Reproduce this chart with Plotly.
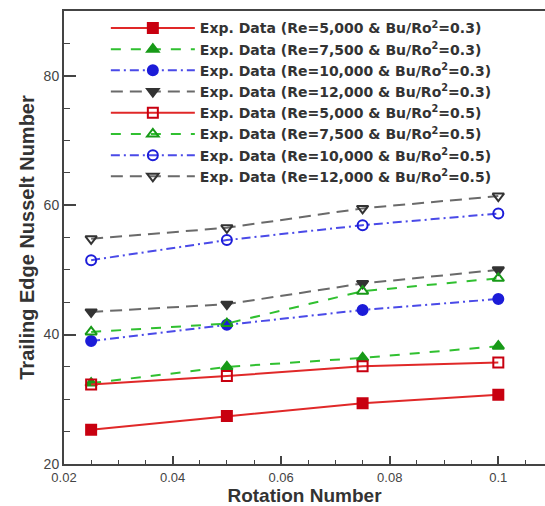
import plotly.graph_objects as go

rotation = [0.025, 0.05, 0.075, 0.1]

nu_re5000_bu03 = [25.3, 27.4, 29.4, 30.7]
nu_re7500_bu03 = [32.5, 35.0, 36.4, 38.2]
nu_re10000_bu03 = [39.0, 41.5, 43.8, 45.5]
nu_re12000_bu03 = [43.5, 44.7, 47.9, 50.0]
nu_re5000_bu05 = [32.3, 33.6, 35.1, 35.7]
nu_re7500_bu05 = [40.4, 41.7, 46.7, 48.7]
nu_re10000_bu05 = [51.5, 54.6, 56.9, 58.7]
nu_re12000_bu05 = [54.8, 56.5, 59.5, 61.4]

names = [
    "Exp. Data (Re=5,000 & Bu/Ro<sup>2</sup>=0.3)",
    "Exp. Data (Re=7,500 & Bu/Ro<sup>2</sup>=0.3)",
    "Exp. Data (Re=10,000 & Bu/Ro<sup>2</sup>=0.3)",
    "Exp. Data (Re=12,000 & Bu/Ro<sup>2</sup>=0.3)",
    "Exp. Data (Re=5,000 & Bu/Ro<sup>2</sup>=0.5)",
    "Exp. Data (Re=7,500 & Bu/Ro<sup>2</sup>=0.5)",
    "Exp. Data (Re=10,000 & Bu/Ro<sup>2</sup>=0.5)",
    "Exp. Data (Re=12,000 & Bu/Ro<sup>2</sup>=0.5)",
]
series = [nu_re5000_bu03, nu_re7500_bu03, nu_re10000_bu03, nu_re12000_bu03,
          nu_re5000_bu05, nu_re7500_bu05, nu_re10000_bu05, nu_re12000_bu05]

x_ticks = [0.02, 0.04, 0.06, 0.08, 0.1]
x_ticktext = ["0.02", "0.04", "0.06", "0.08", "0.1"]
y_ticks = [20, 40, 60, 80]

red_l, red_m = "#e02828", "#c80010"
grn_l, grn_m = "#30c030", "#189a18"
blu_l, blu_m = "#4a4ae8", "#1c1cd8"
blk_l, blk_m = "#6a6a6a", "#333333"

styles = [
    dict(lc=red_l, mc=red_m, dash="solid", sym="square"),
    dict(lc=grn_l, mc=grn_m, dash="10px,10px", sym="triangle-up"),
    dict(lc=blu_l, mc=blu_m, dash="9px,4px,2px,4px", sym="circle"),
    dict(lc=blk_l, mc=blk_m, dash="12px,7px", sym="triangle-down"),
    dict(lc=red_l, mc=red_m, dash="solid", sym="square-open"),
    dict(lc=grn_l, mc=grn_m, dash="10px,10px", sym="triangle-up-open"),
    dict(lc=blu_l, mc=blu_m, dash="9px,4px,2px,4px", sym="circle-open"),
    dict(lc=blk_l, mc=blk_m, dash="12px,7px", sym="triangle-down-open"),
]

fig = go.Figure()
for name, ys, st in zip(names, series, styles):
    fig.add_trace(go.Scatter(
        x=rotation, y=ys, name=name, mode="lines+markers",
        line=dict(color=st["lc"], width=2, dash=st["dash"]),
        marker=dict(symbol=st["sym"], size=10, color=st["mc"],
                    line=dict(color=st["mc"], width=2)),
    ))

axis_col = "#444444"
fig.update_layout(
    width=545, height=506,
    margin=dict(l=64, r=0, t=11, b=42),
    paper_bgcolor="white", plot_bgcolor="white",
    font=dict(family="Liberation Sans, Arial, sans-serif", color="#333333"),
    showlegend=True,
    legend=dict(
        x=0.087, y=0.997, xanchor="left", yanchor="top",
        bgcolor="rgba(255,255,255,0)", borderwidth=0,
        font=dict(family="DejaVu Sans, sans-serif", size=14, color="#333333", weight="bold"),
        itemwidth=84, tracegroupgap=0,
    ),
    xaxis=dict(
        range=[0.02, 0.1086], tickvals=x_ticks, ticktext=x_ticktext,
        ticks="inside", ticklen=8, tickwidth=1.5, tickcolor=axis_col,
        minor=dict(dtick=0.005, ticks="inside", ticklen=4, tickcolor=axis_col, tickwidth=1),
        showline=True, linecolor=axis_col, linewidth=2, mirror=True,
        showgrid=False, zeroline=False,
        tickfont=dict(size=13, color="#444444"),
        title=dict(text="<b>Rotation Number</b>", font=dict(size=19, color="#333333"), standoff=3),
    ),
    yaxis=dict(
        range=[20, 90], tickvals=y_ticks,
        ticks="inside", ticklen=12, tickwidth=1.5, tickcolor=axis_col,
        minor=dict(dtick=5, ticks="inside", ticklen=6, tickcolor=axis_col, tickwidth=1),
        showline=True, linecolor=axis_col, linewidth=2, mirror=False,
        showgrid=False, zeroline=False,
        tickfont=dict(size=14, color="#444444"),
        title=dict(text="<b>Trailing Edge Nusselt Number</b>", font=dict(size=20, color="#333333"), standoff=4),
    ),
)

fig.write_html("out.html")
